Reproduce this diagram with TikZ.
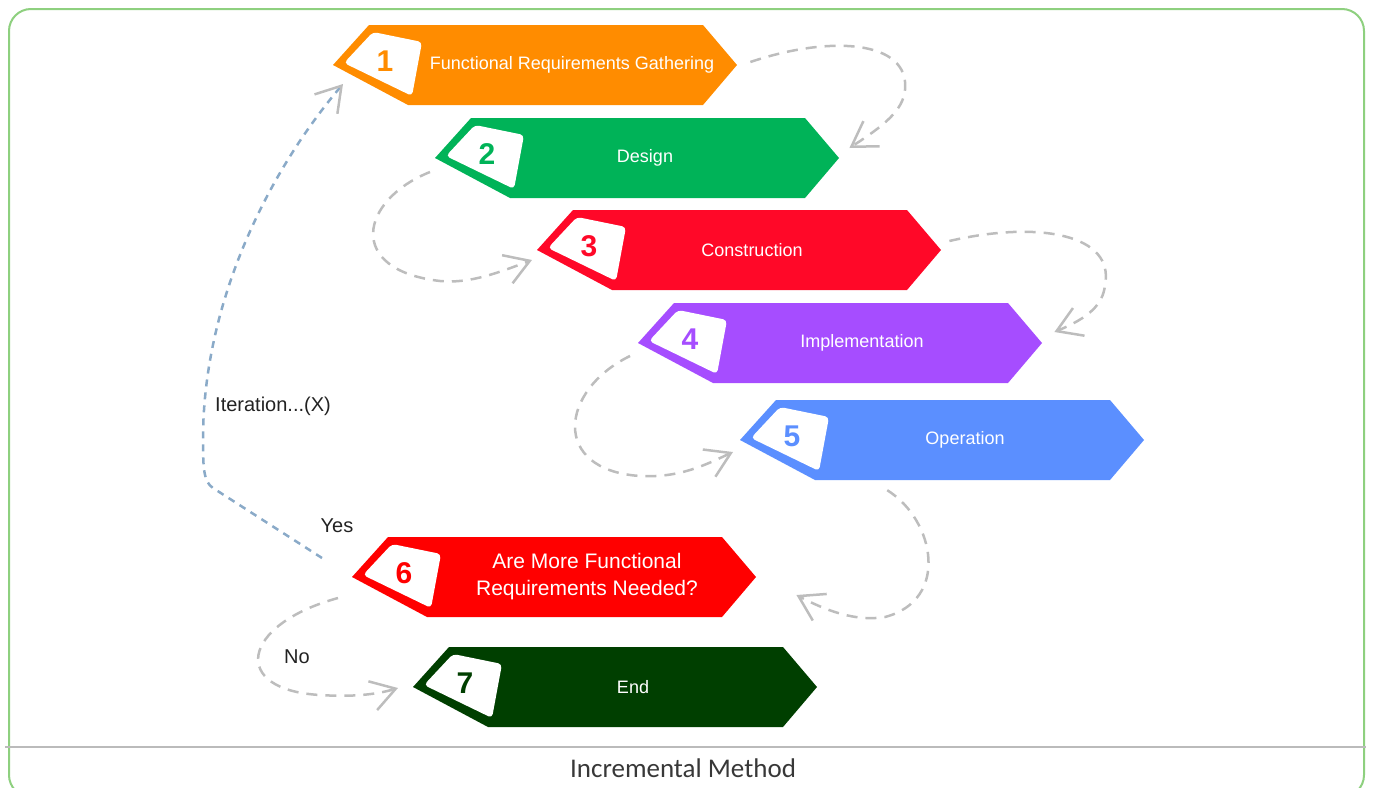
\documentclass[tikz,border=0pt]{standalone}
\usepackage{fontspec}
\setmainfont{Liberation Sans}
\newfontfamily\capfont{Carlito}
\usetikzlibrary{arrows.meta}

\definecolor{stepone}{HTML}{FF8C00}
\definecolor{steptwo}{HTML}{00B358}
\definecolor{stepthree}{HTML}{FF0828}
\definecolor{stepfour}{HTML}{A64DFF}
\definecolor{stepfive}{HTML}{5B8FFF}
\definecolor{stepsix}{HTML}{FF0000}
\definecolor{stepseven}{HTML}{003F00}
\definecolor{flowgray}{HTML}{BDBDBD}
\definecolor{iterblue}{HTML}{8AAAC8}
\definecolor{framegreen}{HTML}{8ED07F}
\definecolor{rulegray}{HTML}{BBBBBB}
\definecolor{notegray}{HTML}{222222}

\begin{document}
\begin{tikzpicture}[x=1pt, y=-1pt,
    stepbody/.style={minimum width=404pt, minimum height=80pt, inner sep=0pt, anchor=west},
    steptext/.style={text=white, align=center, inner sep=0pt},
    stepnum/.style={font=\fontsize{30}{30}\selectfont\bfseries, inner sep=0pt},
    flow/.style={draw=flowgray, line width=2.5pt, dash pattern=on 11pt off 8pt, -{Straight Barb[length=24pt, width=30pt]}},
    iter/.style={draw=iterblue, line width=2.5pt, dash pattern=on 7pt off 6pt, -{Straight Barb[length=24pt, width=30pt, color=flowgray]}},
    note/.style={font=\fontsize{20}{24}\selectfont, text=notegray, inner sep=0pt}]

    \useasboundingbox (0,0) rectangle (1373,787);
    \draw[framegreen, line width=2pt, rounded corners=22pt] (9,9) rectangle (1364,797);
    \draw[rulegray, line width=2.5pt] (5,747) -- (1366,747);
    \node[font=\capfont\fontsize{27}{30}\selectfont, text=notegray!90] (caption) at (683,768) {Incremental Method};

    % the seven steps
    \foreach \n/\px/\py/\col/\tx/\fs/\lbl in {
        1/333/65/stepone/239/18/{Functional Requirements Gathering},
        2/435/158/steptwo/210/18/Design,
        3/537/250/stepthree/215/18/Construction,
        4/638/343/stepfour/224/18/Implementation,
        5/740/440/stepfive/225/18/Operation,
        6/352/577/stepsix/235/21/{Are More Functional\\Requirements Needed?},
        7/413/687/stepseven/220/18/End}
    {
        \fill[\col] (\px,\py) -- ++(36,-40) -- ++(334,0) -- ++(34,40) -- ++(-34,40) -- ++(-295,0) -- cycle;
        \fill[white, rounded corners=4pt] (\px+11,\py-2) -- (\px+40,\py-33) -- (\px+89,\py-23) -- (\px+79,\py+31) -- cycle;
        \node[stepbody] (s\n) at (\px,\py) {};
        \node[stepnum, text=\col] (n\n) at (\px+52,\py-4) {\n};
        \node[steptext, font=\fontsize{\fs}{27}\selectfont] (t\n) at (\px+\tx,\py) {\lbl};
    }

    \node[note] (iterlbl) at (273,406) {Iteration...(X)};
    \node[note] (yeslbl) at (337,526) {Yes};
    \node[note] (nolbl) at (297,657) {No};

    \draw[flow] ([shift={(13,-3)}]s1.east) .. controls (830,35) and (910,40) .. (905,90) .. controls (903,110) and (885,125) .. ([shift={(10,-10)}]s2.east);
    \draw[flow] ([shift={(-5,14)}]s2.west) .. controls (360,200) and (345,270) .. (440,281) .. controls (470,284) and (500,272) .. ([shift={(-5,10)}]s3.west);
    \draw[flow] ([shift={(8,-9)}]s3.east) .. controls (1040,220) and (1115,235) .. (1105,285) .. controls (1103,305) and (1088,318) .. ([shift={(12,-11)}]s4.east);
    \draw[flow] ([shift={(-8,13)}]s4.west) .. controls (560,390) and (550,470) .. (640,476) .. controls (680,478) and (705,465) .. ([shift={(-7,12)}]s5.west);
    \draw[flow] ([shift={(-55,10)}]s5.south) .. controls (935,520) and (950,600) .. (885,617) .. controls (855,622) and (825,610) .. ([shift={(40,18)}]s6.east);
    \draw[flow] ([shift={(-14,21)}]s6.west) .. controls (240,625) and (230,690) .. (320,695) .. controls (350,697) and (375,695) .. ([shift={(-15,1)}]s7.west);
    \draw[iter] ([shift={(-30,-19)}]s6.west) -- (213,488) .. controls (204,482) and (203,470) .. (203,440) .. controls (203,300) and (270,170) .. ([shift={(10,19)}]s1.west);
\end{tikzpicture}
\end{document}
